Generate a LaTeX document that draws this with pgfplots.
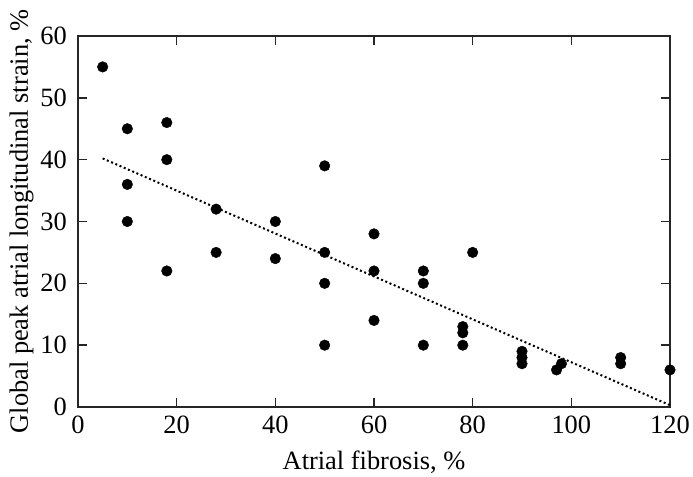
\documentclass[border=0pt]{standalone}
\usepackage{fontspec}
\setmainfont{Liberation Serif}
\usepackage{pgfplots}
\pgfplotsset{compat=1.18}
\begin{document}
\begin{tikzpicture}
\begin{axis}[
  name=ax,
  scale only axis,
  width=592bp, height=371bp,
  xmin=0, xmax=120, ymin=0, ymax=60,
  xtick={0,20,...,120}, ytick={0,10,...,60},
  tick align=inside,
  major tick length=9bp,
  axis line style={line width=1.6bp, black!85},
  every tick/.style={line width=1.6bp, black!85},
  clip=false,
  /pgf/number format/assume math mode=true,
  tick label style={font=\fontsize{26.5}{30}\selectfont, inner sep=0pt},
  xticklabel style={anchor=north, yshift=-9bp},
  yticklabel style={anchor=east, xshift=-11bp},
  label style={font=\fontsize{26.5}{30}\selectfont, inner sep=0pt},
  xlabel={Atrial fibrosis, \%},
  ylabel={Global peak atrial longitudinal strain, \%},
  xlabel style={at={(axis description cs:0.5,0)}, anchor=base, yshift=-62.4bp},
  ylabel style={at={(axis description cs:0,0.5)}, anchor=base, yshift=50bp},
]
\addplot[only marks, mark=*, mark size=5.3bp, black] coordinates {
(5,55)(10,45)(10,36)(10,30)(18,46)(18,40)(18,22)(28,32)(28,25)
(40,30)(40,24)(50,39)(50,25)(50,20)(50,10)(60,28)(60,22)(60,14)
(70,22)(70,20)(70,10)(80,25)(78,13)(78,12)(78,10)(90,9)(90,8)(90,7)
(97,6)(98,7)(110,8)(110,7)(120,6)
};
\addplot[black, line width=2bp, dash pattern=on 2bp off 2.6bp] coordinates {(5,40.2)(120,0.3)};
\end{axis}
\path (ax.south west) ++(-78bp,-70bp) coordinate (bl);
\path (ax.north east) ++(23bp,36bp) coordinate (tr);
\end{tikzpicture}
\end{document}
